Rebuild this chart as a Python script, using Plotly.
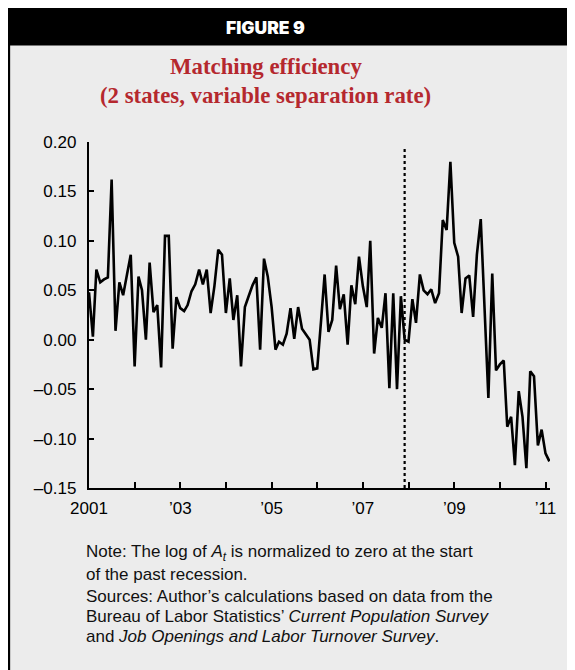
import pandas as pd
import plotly.graph_objects as go

# monthly log matching efficiency, Jan 2001 - Feb 2011
efficiency = [
    0.048, 0.003, 0.071, 0.058, 0.061, 0.063, 0.162, 0.009, 0.058, 0.045, 0.066, 0.086,
    -0.027, 0.064, 0.050, 0.000, 0.078, 0.028, 0.035, -0.028, 0.105, 0.105, -0.009, 0.043,
    0.032, 0.029, 0.035, 0.049, 0.056, 0.071, 0.056, 0.071, 0.027, 0.054, 0.091, 0.086,
    0.027, 0.062, 0.020, 0.045, -0.027, 0.033, 0.044, 0.055, 0.063, -0.010, 0.082, 0.064,
    0.033, -0.010, -0.002, -0.005, 0.006, 0.032, 0.001, 0.033, 0.011, 0.005, 0.000, -0.030,
    -0.029, 0.020, 0.066, 0.008, 0.020, 0.075, 0.031, 0.046, -0.005, 0.055, 0.036, 0.084,
    0.054, 0.033, 0.100, -0.014, 0.022, 0.012, 0.047, -0.049, 0.047, -0.050, 0.044, 0.000,
    -0.002, 0.041, 0.017, 0.066, 0.050, 0.046, 0.051, 0.037, 0.047, 0.121, 0.111, 0.180,
    0.098, 0.084, 0.027, 0.062, 0.065, 0.023, 0.086, 0.122, 0.030, -0.059, 0.067, -0.031,
    -0.025, -0.021, -0.088, -0.078, -0.127, -0.052, -0.078, -0.130, -0.032, -0.037, -0.107,
    -0.091, -0.115, -0.123,
]
months = pd.date_range("2001-01-01", periods=len(efficiency), freq="MS")

recession_start = "2007-12-01"

year_ticks = [f"{y}-01-01" for y in range(2001, 2012)]
year_labels = ["2001", "", "\u201903", "", "\u201905", "", "\u201907", "", "\u201909", "", "\u201911"]

y_ticks = [-0.15, -0.10, -0.05, 0.00, 0.05, 0.10, 0.15, 0.20]
y_labels = ["\u20130.15", "\u20130.10", "\u20130.05", "0.00", "0.05", "0.10", "0.15", "0.20"]

note_lines = [
    "Note: The log of <i>A<sub>t</sub></i> is normalized to zero at the start",
    "of the past recession.",
    "Sources: Author\u2019s calculations based on data from the",
    "Bureau of Labor Statistics\u2019 <i>Current Population Survey</i>",
    "and <i>Job Openings and Labor Turnover Survey</i>.",
]

# page body keeps an 8px margin, so the figure is drawn 8px smaller and
# every position below is given in page pixels and shifted back by OFF
OFF = 8
W, H = 575 - OFF, 670 - OFF
L, R, T, B = 89.3 - OFF, 550.0 - OFF, 142.3 - OFF, 487.7 - OFF
BG = "#ececec"


def px(x):
    return (x - OFF - L) / (R - L)


def py(y):
    return (B - (y - OFF)) / (B - T)


fig = go.Figure()
fig.add_trace(go.Scatter(x=months, y=efficiency, mode="lines",
                         line=dict(color="black", width=2.6), hoverinfo="skip"))

shapes = [
    # black frame line and header bar
    dict(type="rect", xref="paper", yref="paper", x0=px(0), x1=px(10.5), y0=py(680), y1=py(0),
         fillcolor="black", line=dict(width=0), layer="below"),
    dict(type="rect", xref="paper", yref="paper", x0=px(0), x1=px(590), y0=py(46), y1=py(0),
         fillcolor="black", line=dict(width=0), layer="below"),
    # recession start
    dict(type="line", xref="x", yref="y", x0=recession_start, x1=recession_start, y0=-0.15, y1=0.196,
         line=dict(color="black", width=2.2, dash="dot")),
]

annotations = [
    dict(text="FIGURE 9", x=px(266), y=py(28), xref="paper", yref="paper", showarrow=False,
         xanchor="center", yanchor="middle",
         font=dict(family="Inter, Liberation Sans", size=17.5, weight=900, color="white")),
    dict(text="<b>Matching efficiency</b>", x=px(266), y=py(67), xref="paper", yref="paper", showarrow=False,
         xanchor="center", yanchor="middle", font=dict(family="Liberation Serif", size=22.8, color="#b5282e")),
    dict(text="<b>(2 states, variable separation rate)</b>", x=px(266), y=py(96), xref="paper", yref="paper",
         showarrow=False, xanchor="center", yanchor="middle",
         font=dict(family="Liberation Serif", size=22.8, color="#b5282e")),
]
for ypos, line in zip([553, 574, 596, 616, 636], note_lines):
    annotations.append(dict(text=line, x=px(84), y=py(ypos), xref="paper", yref="paper", showarrow=False,
                            xanchor="left", yanchor="middle",
                            font=dict(family="Liberation Sans", size=17, color="#111")))

fig.update_layout(
    width=W, height=H,
    margin=dict(l=L, r=W - R, t=T, b=H - B, pad=0),
    paper_bgcolor=BG, plot_bgcolor=BG,
    showlegend=False,
    shapes=shapes,
    annotations=annotations,
    font=dict(family="Liberation Sans", color="black"),
)
fig.update_xaxes(
    type="date", range=["2001-01-01", "2011-02-06"],
    tickvals=year_ticks, ticktext=year_labels,
    showgrid=False, zeroline=False,
    showline=True, linecolor="black", linewidth=2.4,
    ticks="inside", ticklen=6, tickwidth=2.4, tickcolor="black",
    tickfont=dict(size=17), ticklabelstandoff=3,
)
fig.update_yaxes(
    range=[-0.15, 0.20], tickvals=y_ticks, ticktext=y_labels,
    showgrid=False, zeroline=False,
    showline=True, linecolor="black", linewidth=2.4,
    ticks="inside", ticklen=5, tickwidth=2.4, tickcolor="black",
    tickfont=dict(size=17), ticklabelstandoff=7,
)

fig.write_html("out.html")
